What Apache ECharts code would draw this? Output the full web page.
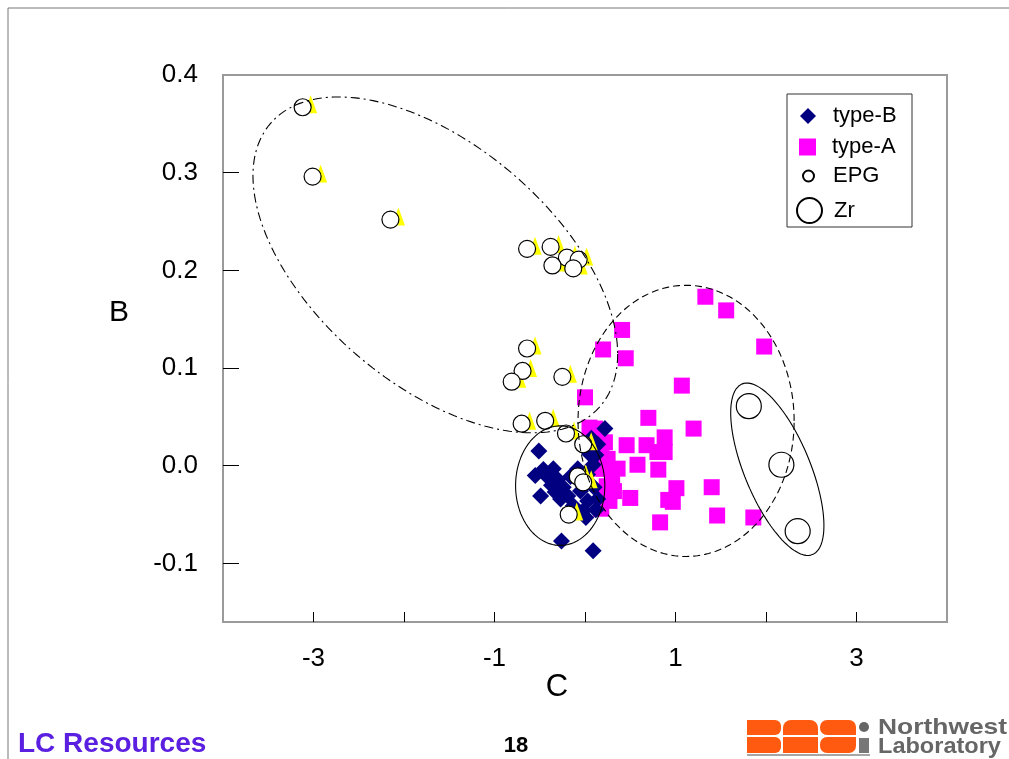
<!DOCTYPE html>
<html><head><meta charset="utf-8">
<script src="https://cdn.jsdelivr.net/npm/echarts@6/dist/echarts.min.js"></script>
<style>html,body{margin:0;padding:0;background:#fff}#c{width:1009px;height:759px}</style>
</head><body><div id="c"></div>
<script>
const xTickLabels = [-3, -1, 1, 3];
const xTicks = [-3, -2, -1, 0, 1, 2, 3];
const yTickLabels = [-0.1, 0, 0.1, 0.2, 0.3, 0.4];
const yTicks = [-0.1, 0, 0.1, 0.2, 0.3];

const typeB = [
  [-0.51, 0.015], [-0.49, -0.031], [-0.26, -0.077], [0.09, -0.087], [0.22, 0.038],
  [0.14, 0.022], [0.07, 0.028], [0.12, 0.011], [0.09, 0.001], [0.03, -0.009],
  [-0.43, -0.010], [-0.35, -0.003], [-0.46, -0.004], [-0.55, -0.010], [-0.30, -0.014],
  [-0.37, -0.020], [-0.24, -0.022], [-0.16, -0.011], [-0.19, -0.031], [-0.08, -0.003],
  [-0.05, -0.026], [0.10, -0.022], [0.14, -0.034], [0.03, -0.036], [-0.02, -0.046],
  [0.01, -0.053], [-0.27, -0.034], [-0.13, -0.041], [-0.33, -0.027], [0.12, -0.045],
  [0.05, 0.012]
];
const typeA = [
  [1.33, 0.173], [1.56, 0.159], [0.41, 0.139], [0.20, 0.119], [0.45, 0.110],
  [1.98, 0.122], [0.00, 0.070], [1.07, 0.082], [0.70, 0.049], [1.20, 0.038],
  [0.05, 0.039], [0.46, 0.021], [0.68, 0.021], [0.88, 0.029], [0.88, 0.014],
  [0.80, 0.014], [0.58, 0.001], [0.81, -0.004], [0.50, -0.033], [1.01, -0.023],
  [0.97, -0.037], [0.92, -0.035], [1.40, -0.022], [1.46, -0.051], [0.83, -0.058],
  [1.86, -0.053], [0.22, 0.024], [0.18, 0.012], [0.25, 0.007], [0.21, -0.003],
  [0.30, -0.011], [0.24, -0.021], [0.32, -0.026], [0.20, -0.034], [0.18, -0.044],
  [0.36, -0.003], [0.27, -0.036], [0.11, 0.038], [0.12, -0.003]
];
const epg = [
  [-3.12, 0.367], [-3.01, 0.296], [-2.15, 0.252], [-0.64, 0.222], [-0.38, 0.224],
  [-0.20, 0.213], [-0.07, 0.211], [-0.36, 0.205], [-0.13, 0.202], [-0.64, 0.120],
  [-0.69, 0.097], [-0.81, 0.086], [-0.25, 0.091], [-0.70, 0.043], [-0.44, 0.046],
  [-0.21, 0.033], [-0.02, 0.022], [-0.08, -0.011], [-0.02, -0.017], [-0.18, -0.050]
];
const zr = [[1.81, 0.061], [2.17, 0.001], [2.35, -0.067]];

// ellipse outlines: [centerX, centerY, u.x, u.y, v.x, v.y] in data units
const ellipseEPG = [-1.654, 0.2056, 2.015, -0.0913, 0, -0.1457];
const ellipseA = [1.117, 0.0459, 1.194, 0, 0, 0.1388];
const ellipseB = [-0.274, -0.0204, 0.493, 0, 0, 0.0612];
const ellipseZr = [2.125, -0.0036, 0.515, -0.0577, 0, -0.0668];

function outline(e) {
  const pts = [];
  const n = 180;
  for (let k = 0; k <= n; k++) {
    const t = 2 * Math.PI * k / n;
    pts.push([e[0] + e[2] * Math.cos(t) + e[4] * Math.sin(t), e[1] + e[3] * Math.cos(t) + e[5] * Math.sin(t)]);
  }
  return pts;
}

const FONT = '"Liberation Sans", Arial, sans-serif';
const chart = echarts.init(document.getElementById('c'), null, { renderer: 'canvas' });

function ellipseSeries(e, type) {
  return {
    type: 'line', data: outline(e), showSymbol: false, symbol: 'none', silent: true,
    lineStyle: { color: '#000', width: 1.1, type: type }, z: 10, animation: false
  };
}

function legendItem(name, top, left, w, h, pad) {
  return {
    data: [name], top: top, left: left, orient: 'vertical', padding: 0,
    itemWidth: w, itemHeight: h, selectedMode: false,
    textStyle: { fontFamily: FONT, fontSize: 22, color: '#000', lineHeight: 24, padding: [0, 0, 0, pad] },
    z: 20
  };
}

chart.setOption({
  animation: false,
  backgroundColor: '#fff',
  grid: { left: 223, top: 75, right: 62, bottom: 137, show: true, borderColor: '#9a9a9a', borderWidth: 2, backgroundColor: 'transparent' },
  xAxis: {
    type: 'value', min: -4, max: 4,
    axisLine: { show: false, onZero: false },
    splitLine: { show: false },
    axisTick: { show: true, inside: true, length: 10, lineStyle: { color: '#000', width: 1 }, customValues: xTicks },
    axisLabel: { customValues: xTickLabels, fontFamily: FONT, fontSize: 26, color: '#000', margin: 24 }
  },
  yAxis: {
    type: 'value', min: -0.16, max: 0.4,
    axisLine: { show: false, onZero: false },
    splitLine: { show: false },
    axisTick: { show: true, inside: true, length: 16, lineStyle: { color: '#000', width: 1 }, customValues: yTicks },
    axisLabel: { customValues: yTickLabels, fontFamily: FONT, fontSize: 26, color: '#000', margin: 25,
      formatter: v => v.toFixed(1) }
  },
  legend: [
    legendItem('type-B', 104, 800, 16, 16, 12),
    legendItem('type-A', 135, 799, 17, 17, 11),
    legendItem('EPG', 164, 802, 11, 11, 14),
    legendItem('Zr', 197, 796, 25, 25, 7)
  ],
  series: [
    { name: 'type-A', type: 'scatter', data: typeA, symbol: 'rect', symbolSize: 16,
      itemStyle: { color: '#ff00ff', opacity: 1 }, z: 2 },
    { name: 'type-B', type: 'scatter', data: typeB, symbol: 'diamond', symbolSize: 17,
      itemStyle: { color: '#000080', opacity: 1 }, z: 3 },
    { name: 'EPG-mark', type: 'scatter', data: epg, symbol: 'triangle', symbolSize: [13, 18], symbolOffset: [8, -3],
      itemStyle: { color: '#ffff00', opacity: 1 }, z: 4, silent: true },
    { name: 'EPG', type: 'scatter', data: epg, symbol: 'circle', symbolSize: 17,
      itemStyle: { color: '#fff', borderColor: '#000', borderWidth: 1.2, opacity: 1 }, z: 5 },
    { name: 'Zr', type: 'scatter', data: zr, symbol: 'circle', symbolSize: 25,
      itemStyle: { color: '#fff', borderColor: '#000', borderWidth: 1.2, opacity: 1 }, z: 5 },
    ellipseSeries(ellipseEPG, [9, 4, 2, 4]),
    ellipseSeries(ellipseA, [7, 4]),
    ellipseSeries(ellipseB, 'solid'),
    ellipseSeries(ellipseZr, 'solid')
  ],
  graphic: [
    { type: 'line', shape: { x1: 8, y1: 8, x2: 1009, y2: 8 }, style: { stroke: '#777', lineWidth: 1 }, silent: true },
    { type: 'line', shape: { x1: 8, y1: 8, x2: 8, y2: 759 }, style: { stroke: '#777', lineWidth: 1 }, silent: true },
    { type: 'rect', shape: { x: 787, y: 94, width: 125, height: 133 }, style: { fill: '#fff', stroke: '#333', lineWidth: 1 }, z: 15, silent: true },
    { type: 'text', x: 119, y: 313, style: { text: 'B', font: '30px ' + FONT, fill: '#000', textAlign: 'center', textVerticalAlign: 'middle' } },
    { type: 'text', x: 557, y: 687, style: { text: 'C', font: '31px ' + FONT, fill: '#000', textAlign: 'center', textVerticalAlign: 'middle' } },
    { type: 'text', x: 18, y: 744, style: { text: 'LC Resources', font: 'bold 28px ' + FONT, fill: '#5a1fe0', textAlign: 'left', textVerticalAlign: 'middle' } },
    { type: 'text', x: 516, y: 746, style: { text: '18', font: 'bold 22px ' + FONT, fill: '#000', textAlign: 'center', textVerticalAlign: 'middle' } },
    // logo
    { type: 'rect', shape: { x: 747, y: 720, width: 34, height: 15, r: [0, 6, 6, 0] }, style: { fill: '#ff5a10' } },
    { type: 'rect', shape: { x: 783, y: 720, width: 35, height: 15, r: [8, 8, 0, 0] }, style: { fill: '#ff5a10' } },
    { type: 'rect', shape: { x: 820, y: 720, width: 36, height: 15, r: [7, 7, 0, 7] }, style: { fill: '#ff5a10' } },
    { type: 'rect', shape: { x: 747, y: 737, width: 34, height: 16, r: [0, 6, 6, 0] }, style: { fill: '#ff5a10' } },
    { type: 'rect', shape: { x: 783, y: 737, width: 35, height: 16, r: [0, 0, 0, 0] }, style: { fill: '#ff5a10' } },
    { type: 'rect', shape: { x: 820, y: 737, width: 36, height: 16, r: [7, 0, 7, 7] }, style: { fill: '#ff5a10' } },
    { type: 'line', shape: { x1: 747, y1: 755, x2: 870, y2: 755 }, style: { stroke: '#888', lineWidth: 1.5 } },
    { type: 'circle', shape: { cx: 864, cy: 727, r: 5 }, style: { fill: '#666' } },
    { type: 'rect', shape: { x: 859, y: 738, width: 10, height: 15 }, style: { fill: '#777' } },
    { type: 'text', x: 878, y: 728, scaleX: 1.2, style: { text: 'Northwest', font: 'bold 22px ' + FONT, fill: '#666', textAlign: 'left', textVerticalAlign: 'middle' } },
    { type: 'text', x: 878, y: 747, scaleX: 1.07, style: { text: 'Laboratory', font: 'bold 22px ' + FONT, fill: '#666', textAlign: 'left', textVerticalAlign: 'middle' } }
  ]
});
</script>
</body></html>
